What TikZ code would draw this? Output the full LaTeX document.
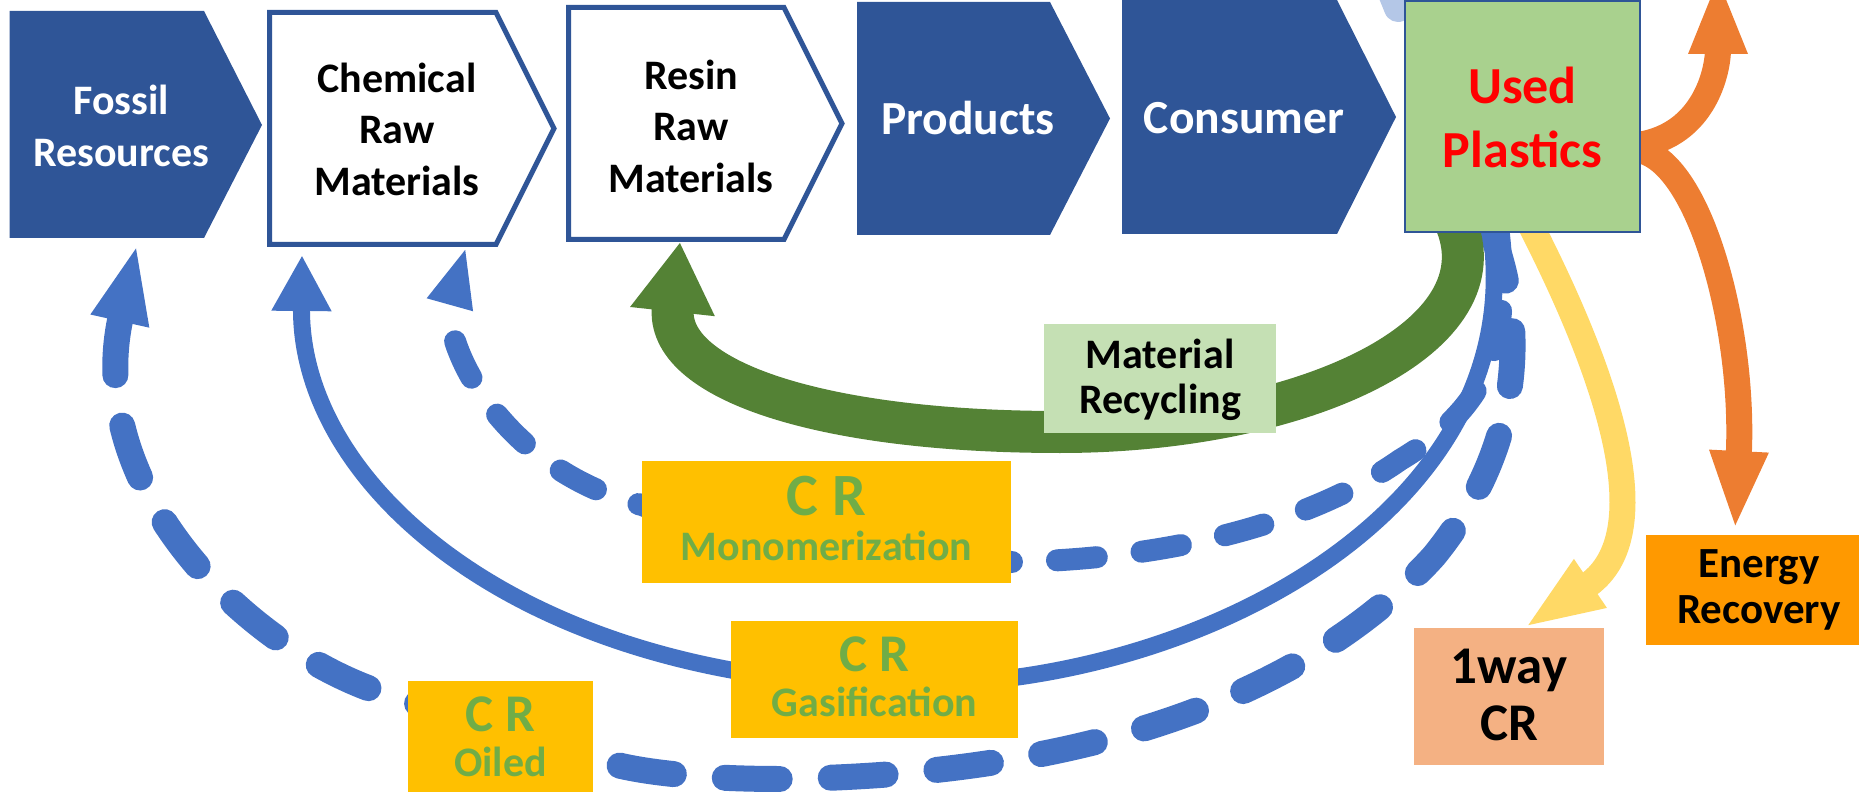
\documentclass[tikz,border=0pt]{standalone}
\usepackage{fontspec}
\setmainfont{Carlito}
\usetikzlibrary{arrows.meta}

\definecolor{chevblue}{HTML}{2F5597}
\definecolor{flowblue}{HTML}{4472C4}
\definecolor{flowgreen}{HTML}{548235}
\definecolor{flowyellow}{HTML}{FFD966}
\definecolor{floworange}{HTML}{ED7D31}
\definecolor{paleblue}{HTML}{B4C7E7}
\definecolor{usedfill}{HTML}{A9D18E}
\definecolor{mrfill}{HTML}{C5E0B4}
\definecolor{crfill}{HTML}{FFC000}
\definecolor{crtext}{HTML}{70AD47}
\definecolor{onewayfill}{HTML}{F4B183}
\definecolor{erfill}{HTML}{FF9900}

\begin{document}
\begin{tikzpicture}[x=0.4pt, y=-0.4pt,
    chev/.style={fill=chevblue},
    chevline/.style={draw=chevblue, line width=2pt, fill=white},
    toplbl/.style={align=center, inner sep=0pt, font=\bfseries\fontsize{16.8}{20.6}\selectfont},
    stagelbl/.style={inner sep=0pt, text=white, font=\bfseries\fontsize{19}{23}\selectfont},
    crlbl/.style={align=center, inner sep=0pt, text=crtext, font=\bfseries\fontsize{16.8}{18}\selectfont},
    flowsolid/.style={draw=flowblue, line width=6.8pt, -{Triangle[width=22.4pt,length=22.4pt]}},
    flowmono/.style={draw=flowblue, line width=8.8pt, line cap=round, dash pattern=on 16pt off 18pt, -{Triangle[width=17.2pt,length=24pt]}},
    flowoil/.style={draw=flowblue, line width=10.4pt, line cap=round, dash pattern=on 22pt off 20.4pt, -{Triangle[width=21.4pt,length=31.6pt]}},
    flowmr/.style={draw=flowgreen, line width=16.8pt, -{Triangle[width=32pt,length=28pt]}},
    flowone/.style={draw=flowyellow, line width=10.4pt, -{Triangle[width=20.8pt,length=32pt]}},
    flower/.style={draw=floworange, line width=10.4pt, -{Triangle[width=21.2pt,length=31.6pt]}}]

    \useasboundingbox (0,0) rectangle (1859,792);
    \clip (0,0) rectangle (1859,792);

    % where the flows leave the used plastics box
    \coordinate (used-mr)  at (1457,226);
    \coordinate (used-gas) at (1490,226);
    \coordinate (used-mon) at (1498,226);
    \coordinate (used-oil) at (1490,228);
    \coordinate (used-one) at (1531,226);
    \coordinate (used-up)  at (1638,145);
    \coordinate (used-er)  at (1638,150);

    % where they come back in
    \coordinate (fossil-in) at (137,244);
    \coordinate (chem-in)   at (302,255);
    \coordinate (chem-in2)  at (466,247);
    \coordinate (resin-in)  at (680,242);
    \coordinate (oneway-in) at (1524,628);
    \coordinate (er-in)     at (1735,530);
    \coordinate (up-out)    at (1718,-25);

    % light blue stub at the top
    \draw[paleblue, line width=11.2pt, line cap=round] (1383,-29) -- (1398,8);

    % energy recovery (orange split)
    \draw[flower] (used-up) .. controls (1705,135) and (1718,70) .. (up-out);
    \draw[flower] (used-er) .. controls (1700,160) and (1745,330) .. (er-in);

    % one way CR
    \draw[flowone] (used-one) .. controls (1620,400) and (1655,540) .. (oneway-in);

    % CR oiled, back to fossil resources
    \draw[flowoil] (used-oil) .. controls (1530,330) and (1520,450) .. (1434,556)
        .. controls (1340,660) and (1150,775) .. (780,779)
        .. controls (690,779) and (620,770) .. (593,757)
        .. controls (520,740) and (460,720) .. (408,700)
        .. controls (270,670) and (80,500) .. (fossil-in);

    % CR gasification, back to chemical raw materials
    \draw[flowsolid] (used-gas) .. controls (1530,470) and (1280,640) .. (1018,677)
        .. controls (930,690) and (820,690) .. (731,670)
        .. controls (460,620) and (300,460) .. (chem-in);

    % CR monomerization, back to chemical raw materials
    \draw[flowmono] (used-mon) .. controls (1510,330) and (1500,400) .. (1400,460)
        .. controls (1300,530) and (1150,560) .. (1011,562)
        .. controls (900,563) and (740,545) .. (642,505)
        .. controls (500,470) and (440,340) .. (chem-in2);

    % material recycling, back to resin
    \draw[flowmr] (used-mr) .. controls (1500,340) and (1300,432) .. (1060,432)
        .. controls (820,432) and (665,380) .. (resin-in);

    % Stages along the top
    \fill[chev] (9.5,11) -- (204,11) -- (262,125) -- (204,238) -- (9.5,238) -- cycle;
    \draw[chevline] (269.5,12.5) -- (496,12.5) -- (554,128.5) -- (496,244.5) -- (269.5,244.5) -- cycle;
    \draw[chevline] (568.5,7.5) -- (784,7.5) -- (842,123.5) -- (784,239.5) -- (568.5,239.5) -- cycle;
    \fill[chev] (857,2) -- (1050,2) -- (1110,118.5) -- (1050,235) -- (857,235) -- cycle;
    \fill[chev] (1122,0) -- (1337,0) -- (1396,117) -- (1337,234) -- (1122,234) -- cycle;
    \filldraw[fill=usedfill, draw=chevblue, line width=1pt] (1405,1) rectangle (1640,232);

    \node[toplbl, text=white] (fossil) at (121,126) {Fossil\\Resources};
    \node[toplbl] (chem) at (397,129) {Chemical\\Raw\\Materials};
    \node[toplbl] (resin) at (691,126) {Resin\\Raw\\Materials};
    \node[stagelbl] (prod) at (968,118) {Products};
    \node[stagelbl] (cons) at (1244,118) {Consumer};
    \node[align=center, inner sep=0pt, text=red, font=\bfseries\fontsize{20.8}{25.6}\selectfont]
        (used) at (1522.5,117) {Used\\Plastics};

    % label boxes on the flows
    \fill[mrfill] (1044,324) rectangle (1276,433);
    \node[align=center, inner sep=0pt, font=\bfseries\fontsize{16.8}{18}\selectfont]
        (mr) at (1160,380) {Material\\Recycling};

    \fill[crfill] (642,461) rectangle (1011,583);
    \node[crlbl] (crmon) at (826.5,518) {{\fontsize{24}{18}\selectfont C R}\\Monomerization};

    \fill[crfill] (731,621) rectangle (1018,738);
    \node[crlbl] (crgas) at (874.5,677) {{\fontsize{21.2}{18}\selectfont C R}\\Gasification};

    \fill[crfill] (408,681) rectangle (593,794);
    \node[crlbl] (croil) at (500.5,737) {{\fontsize{21.2}{18}\selectfont C R}\\Oiled};

    \fill[onewayfill] (1414,628) rectangle (1604,765);
    \node[align=center, inner sep=0pt, font=\bfseries\fontsize{21.2}{22.8}\selectfont]
        (oneway) at (1509,694.5) {1way\\CR};

    \fill[erfill] (1646,535) rectangle (1875,645);
    \node[align=center, inner sep=0pt, font=\bfseries\fontsize{17.2}{18.2}\selectfont]
        (er) at (1759,590) {Energy\\Recovery};

\end{tikzpicture}
\end{document}
